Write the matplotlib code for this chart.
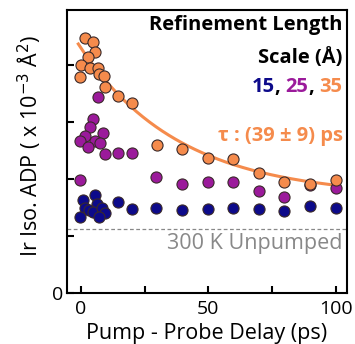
import numpy as np
import matplotlib
matplotlib.use('Agg')
import matplotlib.pyplot as plt
from matplotlib.transforms import offset_copy

plt.rcParams['font.family'] = ['Open Sans', 'DejaVu Sans']

# delay (ps) and ADP values for each refinement length scale
x35 = [1.7, 4.7, 5.6, 2.7, 0.1, 3.4, 6.9, -0.3, 7.3, 8.9, 9.6, 14.7, 20.1,
       29.8, 39.8, 49.7, 59.8, 69.8, 79.6, 89.8, 99.9]
y35 = [4.48, 4.41, 4.23, 4.14, 4.00, 3.94, 3.94, 3.79, 3.84, 3.81, 3.61, 3.46, 3.34,
       2.60, 2.53, 2.36, 2.35, 2.10, 1.94, 1.92, 1.98]

x25 = [6.7, 4.7, 3.6, 1.7, 8.6, -0.3, 5.6, 7.6, 2.7, 9.6, 14.7, 20.1, -0.3,
       29.5, 39.8, 49.7, 59.8, 69.8, 79.6, 89.8, 99.9]
y25 = [3.44, 3.05, 2.92, 2.76, 2.80, 2.67, 2.67, 2.64, 2.57, 2.43, 2.45, 2.45, 1.98,
       2.04, 1.91, 1.94, 1.94, 1.79, 1.69, 1.89, 1.84]

x15 = [5.7, 0.8, 6.4, 1.7, 3.0, 4.7, 8.3, 9.6, 7.1, -0.5, 14.5, 20.1,
       29.5, 39.8, 49.7, 59.8, 69.8, 79.6, 89.8, 99.9]
y15 = [1.72, 1.63, 1.57, 1.50, 1.46, 1.43, 1.50, 1.40, 1.34, 1.34, 1.59, 1.47,
       1.50, 1.46, 1.47, 1.49, 1.47, 1.44, 1.53, 1.50]

# exponential fit of the 35 A series
fit_amp = 2.61
fit_tau = 39.0
fit_off = 1.69
unpumped = 1.12

navy = '#0d0a8a'
purple = '#9b1a9b'
orange = '#f58b4c'

fig = plt.figure(figsize=(3.55, 3.44), dpi=100)
ax = fig.add_axes([0.189, 0.148, 0.788, 0.824])

ax.axhline(unpumped, color='#888888', lw=0.9, ls=(0, (3, 2)), zorder=1)

tfit = np.linspace(-1, 100, 200)
ax.plot(tfit, fit_amp * np.exp(-tfit / fit_tau) + fit_off, color=orange, lw=2.2, zorder=2)

mk = dict(marker='o', ls='none', ms=8, mec='#3a2a2a', mew=0.8, zorder=3)
ax.plot(x15, y15, mfc=navy, **mk)
ax.plot(x25, y25, mfc=purple, **mk)
ax.plot(x35, y35, mfc=orange, **mk)

ax.set_xlim(-5.4, 104.3)
ax.set_ylim(0, 4.97)
ax.set_xticks([0, 25, 50, 75, 100])
ax.set_xticklabels(['0', '', '50', '', '100'])
ax.set_yticks([0, 1, 2, 3, 4])
ax.set_yticklabels(['0', '', '', '', ''])
ax.tick_params(direction='in', length=5, width=1.5, labelsize=14, pad=3)
ax.tick_params(axis='x', pad=5)
for s in ax.spines.values():
    s.set_linewidth(1.5)

ax.set_xlabel('Pump - Probe Delay (ps)', fontsize=15.5)
ax.xaxis.set_label_coords(0.5, -0.105)
ax.xaxis.label.set_va('top')
ax.set_ylabel('Ir Iso. ADP ( x 10$^{-3}$ Å$^{2}$)', fontsize=15.5)
ax.yaxis.set_label_coords(-0.085, 0.52)

tr = ax.transAxes
fs = 14.5
ax.text(0.985, 0.928, 'Refinement Length', transform=tr, ha='right', va='baseline',
        fontsize=fs, fontweight='bold')
ax.text(0.985, 0.811, 'Scale (Å)', transform=tr, ha='right', va='baseline',
        fontsize=fs, fontweight='bold')

# coloured "15, 25, 35" built right to left
fig.canvas.draw()
r = fig.canvas.get_renderer()
xoff = 0
for part, c in [('35', orange), (', ', 'black'), ('25', purple), (', ', 'black'), ('15', navy)]:
    t = ax.text(0.985, 0.709, part, transform=offset_copy(tr, fig=fig, x=-xoff, units='dots'),
                ha='right', va='baseline', fontsize=fs, fontweight='bold', color=c)
    xoff += t.get_window_extent(r).width

ax.text(0.985, 0.536, 'τ : (39 ± 9) ps', transform=tr, ha='right', va='baseline',
        fontsize=fs, fontweight='bold', color=orange)
ax.text(0.985, 0.155, '300 K Unpumped', transform=tr, ha='right', va='baseline',
        fontsize=15.5, color='#888888')

fig.savefig('out.png', dpi=100)
